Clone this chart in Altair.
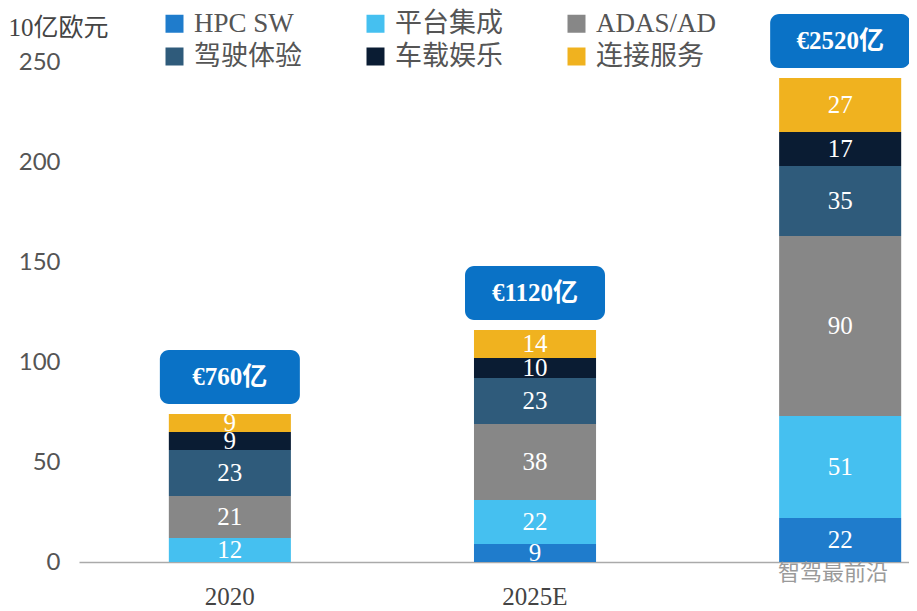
import altair as alt
import pandas as pd

years = ["2020", "2025E", "2030E"]
series = ["HPC SW", "平台集成", "ADAS/AD", "驾驶体验", "车载娱乐", "连接服务"]
colors = ["#1f7ccc", "#45c0f0", "#878787", "#2f5b7b", "#0a1c33", "#f0b21f"]
values = {
    "HPC SW":   [0, 9, 22],
    "平台集成": [12, 22, 51],
    "ADAS/AD":  [21, 38, 90],
    "驾驶体验": [23, 23, 35],
    "车载娱乐": [9, 10, 17],
    "连接服务": [9, 14, 27],
}
total_labels = ["€760亿", "€1120亿", "€2520亿"]

rows = []
for si, s in enumerate(series):
    for yi, y in enumerate(years):
        rows.append({"year": y, "series": s, "value": values[s][yi], "order": si})
df = pd.DataFrame(rows)

tot = pd.DataFrame({
    "year": years,
    "total": [sum(values[s][i] for s in series) for i in range(len(years))],
    "label": total_labels,
})

FONT = "Liberation Serif, Noto Sans CJK SC"

xenc = alt.X(
    "year:N", sort=years, title=None,
    scale=alt.Scale(paddingInner=0.6, paddingOuter=0.16, align=0.92),
    axis=alt.Axis(labelAngle=0, ticks=False, domainColor="#aaaaaa", domainWidth=1.5,
                  labelFontSize=25, labelColor="#444444", labelFont=FONT, labelPadding=22,
                  labelExpr="datum.label == '2030E' ? '' : datum.label"),
)

base = alt.Chart(df).transform_stack(
    stack="value", groupby=["year"], as_=["y0", "y1"],
    sort=[alt.SortField("order", order="ascending")],
).transform_calculate(mid="(datum.y0 + datum.y1) / 2")

bars = base.mark_bar(stroke=None).encode(
    x=xenc,
    y=alt.Y("y0:Q", scale=alt.Scale(domain=[0, 250], nice=False),
            axis=alt.Axis(values=[0, 50, 100, 150, 200, 250], grid=False, domain=False, ticks=False,
                          labelFontSize=24, labelColor="#555555", labelFont="Lato", labelPadding=19,
                          title="10亿欧元", titleAngle=0, titleX=-71, titleY=-35, titleAlign="left",
                          titleBaseline="middle", titleFont=FONT, titleFontSize=25,
                          titleFontWeight="normal", titleColor="#444444")),
    y2="y1:Q",
    color=alt.Color("series:N", sort=series,
                    scale=alt.Scale(domain=series, range=colors),
                    legend=alt.Legend(title=None, orient="none", legendX=82, legendY=-52,
                                      direction="horizontal", columns=3, symbolType="square",
                                      symbolSize=324, symbolStrokeWidth=0, labelFontSize=27,
                                      labelFont=FONT, labelColor="#555555", columnPadding=60,
                                      rowPadding=5, labelLimit=300, labelOffset=6)),
    order=alt.Order("order:Q"),
)

seg_text = base.transform_filter("datum.value > 0").mark_text(
    font=FONT, fontSize=25, color="white", baseline="middle"
).encode(
    x=alt.X("year:N", sort=years),
    y="mid:Q",
    text="value:Q",
)

boxes = alt.Chart(tot).mark_bar(width=140, cornerRadius=9, color="#0a72c6",
                                yOffset=-10, y2Offset=-64).encode(
    x=alt.X("year:N", sort=years),
    y="total:Q",
    y2="total:Q",
)

box_text = alt.Chart(tot).mark_text(font=FONT, fontSize=25, fontWeight="bold", color="white",
                                     baseline="middle", yOffset=-37).encode(
    x=alt.X("year:N", sort=years),
    y="total:Q",
    text="label:N",
)

watermark = alt.Chart(pd.DataFrame({"t": ["智驾最前沿"]})).mark_text(
    font="Noto Sans CJK SC", fontSize=22, color="#9a9a9a", align="left", baseline="middle"
).encode(x=alt.value(699), y=alt.value(511), text="t:N")

chart = alt.layer(bars, seg_text, boxes, box_text, watermark).properties(
    width=830, height=500,
    autosize=alt.AutoSizeParams(type="none"),
    padding={"left": 71, "top": 54, "right": 0, "bottom": 48},
).configure_view(stroke=None)

chart.save("out.html", embed_options={"renderer": "svg", "actions": False})
